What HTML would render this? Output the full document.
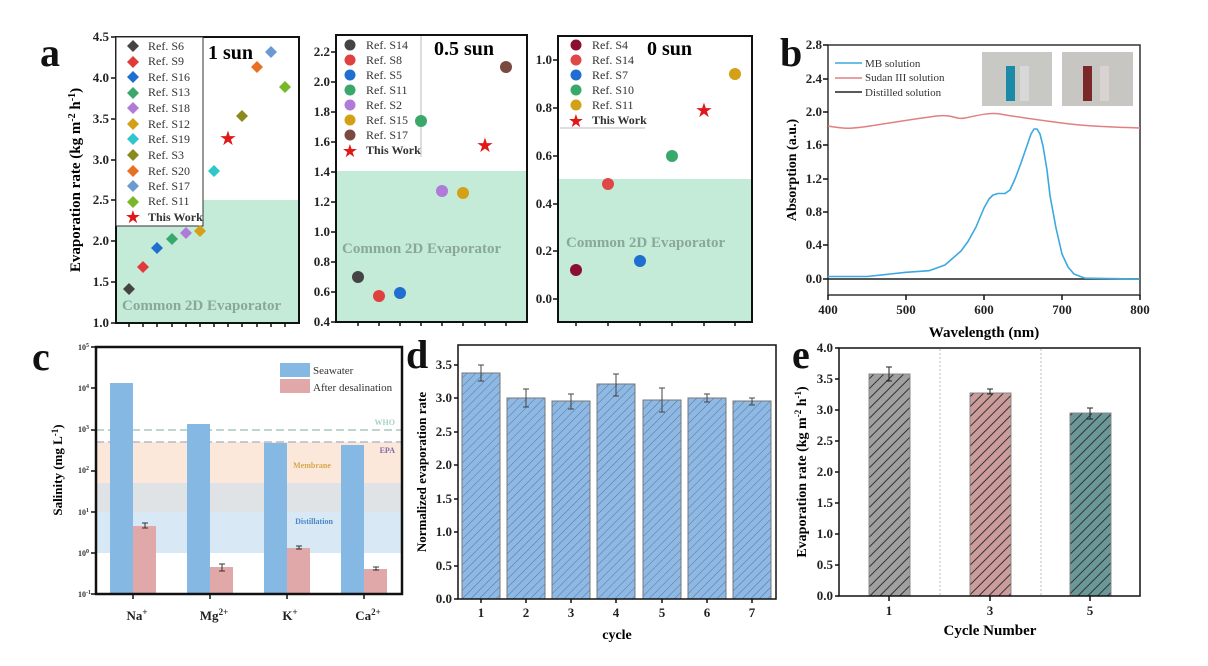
<!DOCTYPE html>
<html><head><meta charset="utf-8"><style>
html,body{margin:0;padding:0;background:#fff;}
svg{display:block;font-family:"Liberation Serif",serif;}
.t{font-weight:bold;font-size:13px;fill:#222;}
.lg{font-size:12px;fill:#333;}
.big{font-weight:bold;font-size:40px;fill:#111;}
.tk{stroke:#111;stroke-width:1.5;fill:none;}
</style></head><body>
<svg width="1208" height="666" viewBox="0 0 1208 666">
<defs>
<pattern id="hd" width="6" height="6" patternUnits="userSpaceOnUse" patternTransform="rotate(45)">
<rect width="6" height="6" fill="#8fb8e2"/><line x1="0" y1="0" x2="0" y2="6" stroke="#4a78a8" stroke-width="1"/></pattern>
<pattern id="hg" width="7" height="7" patternUnits="userSpaceOnUse" patternTransform="rotate(45)">
<rect width="7" height="7" fill="#a0a0a0"/><line x1="0" y1="0" x2="0" y2="7" stroke="#333" stroke-width="2"/></pattern>
<pattern id="hp" width="7" height="7" patternUnits="userSpaceOnUse" patternTransform="rotate(45)">
<rect width="7" height="7" fill="#cc9c9a"/><line x1="0" y1="0" x2="0" y2="7" stroke="#333" stroke-width="2"/></pattern>
<pattern id="ht" width="7" height="7" patternUnits="userSpaceOnUse" patternTransform="rotate(45)">
<rect width="7" height="7" fill="#6a9898"/><line x1="0" y1="0" x2="0" y2="7" stroke="#333" stroke-width="2"/></pattern>
</defs>

<text x="40" y="66" class="big">a</text>
<text x="780" y="66" class="big">b</text>
<text x="32" y="370" class="big">c</text>
<text x="406" y="368" class="big">d</text>
<text x="792" y="368" class="big">e</text>

<!-- a1 -->
<rect x="116" y="200" width="183" height="123" fill="#c4ead8"/>
<rect x="116" y="37" width="183" height="286" fill="none" stroke="#111" stroke-width="2"/>
<path class="tk" d="M111 323h5M111 282h5M111 241h5M111 200h5M111 160h5M111 119h5M111 78h5M111 37h5M129 323v4M143 323v4M157 323v4M172 323v4M186 323v4M200 323v4M214 323v4M228 323v4M242 323v4M257 323v4M271 323v4M285 323v4"/>
<g class="t" text-anchor="end">
<text x="109" y="327">1.0</text><text x="109" y="286">1.5</text><text x="109" y="245">2.0</text><text x="109" y="204">2.5</text><text x="109" y="164">3.0</text><text x="109" y="123">3.5</text><text x="109" y="82">4.0</text><text x="109" y="41">4.5</text></g>
<text transform="translate(80,180) rotate(-90)" text-anchor="middle" style="font-weight:bold;font-size:15px">Evaporation rate (kg m<tspan dy="-5" font-size="10">-2</tspan><tspan dy="5"> h</tspan><tspan dy="-5" font-size="10">-1</tspan><tspan dy="5">)</tspan></text>
<text x="122" y="310" style="font-weight:bold;font-size:15px;fill:#8aa898">Common 2D Evaporator</text>
<rect x="116" y="37" width="87" height="189" fill="#fff" stroke="#333" stroke-width="1"/>
<text x="208" y="59" style="font-weight:bold;font-size:20px">1 sun</text>
<g class="lg">
<text x="148" y="50">Ref. S6</text><text x="148" y="65">Ref. S9</text><text x="148" y="81">Ref. S16</text><text x="148" y="96">Ref. S13</text><text x="148" y="112">Ref. S18</text><text x="148" y="128">Ref. S12</text><text x="148" y="143">Ref. S19</text><text x="148" y="159">Ref. S3</text><text x="148" y="175">Ref. S20</text><text x="148" y="190">Ref. S17</text><text x="148" y="205">Ref. S11</text><text x="148" y="221" style="font-weight:bold">This Work</text></g>
<g>
<path d="M133 40l6 6-6 6-6-6z" fill="#444"/><path d="M133 56l6 6-6 6-6-6z" fill="#e03a3a"/><path d="M133 71l6 6-6 6-6-6z" fill="#1f6fd0"/><path d="M133 87l6 6-6 6-6-6z" fill="#3aa86a"/><path d="M133 102l6 6-6 6-6-6z" fill="#b07ad8"/><path d="M133 118l6 6-6 6-6-6z" fill="#d4a018"/><path d="M133 133l6 6-6 6-6-6z" fill="#2ec8cc"/><path d="M133 149l6 6-6 6-6-6z" fill="#8a8a1e"/><path d="M133 165l6 6-6 6-6-6z" fill="#e87020"/><path d="M133 180l6 6-6 6-6-6z" fill="#6a9ad0"/><path d="M133 196l6 6-6 6-6-6z" fill="#78b828"/>
<text x="133" y="223" text-anchor="middle" font-size="18" fill="#e01818">★</text>
</g>
<g>
<path d="M129 283l6 6-6 6-6-6z" fill="#444"/><path d="M143 261l6 6-6 6-6-6z" fill="#e03a3a"/><path d="M157 242l6 6-6 6-6-6z" fill="#1f6fd0"/><path d="M172 233l6 6-6 6-6-6z" fill="#3aa86a"/><path d="M186 227l6 6-6 6-6-6z" fill="#b07ad8"/><path d="M200 225l6 6-6 6-6-6z" fill="#d4a018"/><path d="M214 165l6 6-6 6-6-6z" fill="#2ec8cc"/><path d="M242 110l6 6-6 6-6-6z" fill="#8a8a1e"/><path d="M257 61l6 6-6 6-6-6z" fill="#e87020"/><path d="M271 46l6 6-6 6-6-6z" fill="#6a9ad0"/><path d="M285 81l6 6-6 6-6-6z" fill="#78b828"/>
<text x="228" y="145" text-anchor="middle" font-size="20" fill="#e01818">★</text></g>

<!-- a2 -->
<rect x="336" y="171" width="191" height="151" fill="#c4ead8"/>
<rect x="336" y="35" width="191" height="287" fill="none" stroke="#111" stroke-width="2"/>
<path class="tk" d="M331 322h5M331 292h5M331 262h5M331 232h5M331 202h5M331 172h5M331 142h5M331 112h5M331 82h5M331 52h5M358 322v4M379 322v4M400 322v4M421 322v4M442 322v4M463 322v4M485 322v4M506 322v4"/>
<g class="t" text-anchor="end">
<text x="330" y="326">0.4</text><text x="330" y="296">0.6</text><text x="330" y="266">0.8</text><text x="330" y="236">1.0</text><text x="330" y="206">1.2</text><text x="330" y="176">1.4</text><text x="330" y="146">1.6</text><text x="330" y="116">1.8</text><text x="330" y="86">2.0</text><text x="330" y="56">2.2</text></g>
<text x="342" y="253" style="font-weight:bold;font-size:15px;fill:#8aa898">Common 2D Evaporator</text>
<line x1="421" y1="36" x2="421" y2="157" stroke="#bbb"/>
<text x="434" y="55" style="font-weight:bold;font-size:20px">0.5 sun</text>
<g class="lg">
<text x="366" y="49">Ref. S14</text><text x="366" y="64">Ref. S8</text><text x="366" y="79">Ref. S5</text><text x="366" y="94">Ref. S11</text><text x="366" y="109">Ref. S2</text><text x="366" y="124">Ref. S15</text><text x="366" y="139">Ref. S17</text><text x="366" y="154" style="font-weight:bold">This Work</text></g>
<g><circle cx="350" cy="45" r="5.5" fill="#444"/><circle cx="350" cy="60" r="5.5" fill="#e04040"/><circle cx="350" cy="75" r="5.5" fill="#1f6fd0"/><circle cx="350" cy="90" r="5.5" fill="#3aa86a"/><circle cx="350" cy="105" r="5.5" fill="#b07ad8"/><circle cx="350" cy="120" r="5.5" fill="#d4a018"/><circle cx="350" cy="135" r="5.5" fill="#7a4a40"/><text x="350" y="157" text-anchor="middle" font-size="18" fill="#e01818">★</text>
<circle cx="358" cy="277" r="6" fill="#444"/><circle cx="379" cy="296" r="6" fill="#e04040"/><circle cx="400" cy="293" r="6" fill="#1f6fd0"/><circle cx="421" cy="121" r="6" fill="#3aa86a"/><circle cx="442" cy="191" r="6" fill="#b07ad8"/><circle cx="463" cy="193" r="6" fill="#d4a018"/><circle cx="506" cy="67" r="6" fill="#7a4a40"/><text x="485" y="152" text-anchor="middle" font-size="20" fill="#e01818">★</text></g>

<!-- a3 -->
<rect x="558" y="179" width="194" height="143" fill="#c4ead8"/>
<rect x="558" y="36" width="194" height="286" fill="none" stroke="#111" stroke-width="2"/>
<path class="tk" d="M553 299h5M553 251h5M553 204h5M553 156h5M553 108h5M553 60h5M576 322v4M608 322v4M640 322v4M672 322v4M704 322v4M735 322v4"/>
<g class="t" text-anchor="end">
<text x="552" y="303">0.0</text><text x="552" y="255">0.2</text><text x="552" y="208">0.4</text><text x="552" y="160">0.6</text><text x="552" y="112">0.8</text><text x="552" y="64">1.0</text></g>
<text x="566" y="247" style="font-weight:bold;font-size:15px;fill:#8aa898">Common 2D Evaporator</text>
<line x1="560" y1="128" x2="645" y2="128" stroke="#bbb"/>
<text x="647" y="55" style="font-weight:bold;font-size:20px">0 sun</text>
<g class="lg">
<text x="592" y="49">Ref. S4</text><text x="592" y="64">Ref. S14</text><text x="592" y="79">Ref. S7</text><text x="592" y="94">Ref. S10</text><text x="592" y="109">Ref. S11</text><text x="592" y="124" style="font-weight:bold">This Work</text></g>
<g><circle cx="576" cy="45" r="5.5" fill="#8a1030"/><circle cx="576" cy="60" r="5.5" fill="#e04848"/><circle cx="576" cy="75" r="5.5" fill="#1f6fd0"/><circle cx="576" cy="90" r="5.5" fill="#3aa86a"/><circle cx="576" cy="105" r="5.5" fill="#d4a018"/><text x="576" y="127" text-anchor="middle" font-size="18" fill="#e01818">★</text>
<circle cx="576" cy="270" r="6" fill="#8a1030"/><circle cx="608" cy="184" r="6" fill="#e04848"/><circle cx="640" cy="261" r="6" fill="#1f6fd0"/><circle cx="672" cy="156" r="6" fill="#3aa86a"/><circle cx="735" cy="74" r="6" fill="#d4a018"/><text x="704" y="117" text-anchor="middle" font-size="20" fill="#e01818">★</text></g>

<!-- b -->
<rect x="828" y="45" width="312" height="250" fill="none" stroke="#333" stroke-width="1.5"/>
<path class="tk" d="M823 45h5M823 79h5M823 112h5M823 145h5M823 179h5M823 212h5M823 245h5M823 279h5M828 295v5M906 295v5M984 295v5M1062 295v5M1140 295v5"/>
<rect x="982" y="52" width="70" height="54" fill="#c8c8c4"/><rect x="1006" y="66" width="9" height="35" fill="#1a8aa8"/><rect x="1020" y="66" width="9" height="35" fill="#d8d8d8"/>
<rect x="1062" y="52" width="71" height="54" fill="#c8c6c2"/><rect x="1083" y="66" width="9" height="35" fill="#7a2828"/><rect x="1100" y="66" width="9" height="35" fill="#d8d2d0"/>
<line x1="828" y1="279" x2="1140" y2="279" stroke="#222" stroke-width="1.5"/>
<path fill="none" stroke="#e08080" stroke-width="1.5" d="M828 126 C845 129 850 129 870 126 S920 118 937 116 S955 120 965 118 S990 112 1000 114 S1040 120 1062 123 S1110 127 1140 128"/>
<polyline fill="none" stroke="#3ca8e0" stroke-width="1.6" stroke-linejoin="round" points="828,276.5 867,276.5 906,272.3 929,270.7 945,265 953,258 961,251 968,241.5 976,227 984,208 989,199 993,195 998,193.5 1005,193.5 1010,190 1015,179 1021,163 1027,145.6 1031,134 1034,129 1037,129 1040,134 1043,146 1047,170 1050,195.6 1056,228 1062,254 1068,267 1074,274 1085,278.2 1140,279"/>
<line x1="835" y1="63" x2="862" y2="63" stroke="#3ca8e0" stroke-width="1.6"/><line x1="835" y1="78" x2="862" y2="78" stroke="#e08080" stroke-width="1.6"/><line x1="835" y1="92" x2="862" y2="92" stroke="#222" stroke-width="1.6"/>
<g class="lg"><text x="865" y="67" font-size="11">MB solution</text><text x="865" y="81" font-size="11">Sudan III solution</text><text x="865" y="96" font-size="11">Distilled solution</text></g>
<g class="t" text-anchor="end" font-size="12">
<text x="822" y="49">2.8</text><text x="822" y="83">2.4</text><text x="822" y="116">2.0</text><text x="822" y="149">1.6</text><text x="822" y="183">1.2</text><text x="822" y="216">0.8</text><text x="822" y="249">0.4</text><text x="822" y="283">0.0</text></g>
<g class="t" text-anchor="middle"><text x="828" y="314">400</text><text x="906" y="314">500</text><text x="984" y="314">600</text><text x="1062" y="314">700</text><text x="1140" y="314">800</text></g>
<text x="984" y="337" text-anchor="middle" style="font-weight:bold;font-size:15px">Wavelength (nm)</text>
<text transform="translate(796,170) rotate(-90)" text-anchor="middle" style="font-weight:bold;font-size:14px">Absorption (a.u.)</text>

<!-- c -->
<rect x="96" y="512" width="306" height="41" fill="#d8e8f5"/>
<rect x="96" y="483" width="306" height="29" fill="#dfe3e6"/>
<rect x="96" y="442" width="306" height="41" fill="#fbe8da"/>
<line x1="96" y1="430" x2="402" y2="430" stroke="#aac8c0" stroke-dasharray="8,4" stroke-width="1.5"/>
<line x1="96" y1="442" x2="402" y2="442" stroke="#b8b8c8" stroke-dasharray="8,4" stroke-width="1.5"/>
<g fill="#86b8e4">
<rect x="110" y="383" width="23" height="211"/><rect x="187" y="424" width="23" height="170"/><rect x="264" y="443" width="23" height="151"/><rect x="341" y="445" width="23" height="149"/></g>
<g fill="#e0a8a8">
<rect x="133" y="526" width="23" height="68"/><rect x="210" y="567" width="23" height="27"/><rect x="287" y="548" width="23" height="46"/><rect x="364" y="569" width="23" height="25"/></g>
<g stroke="#333" stroke-width="1"><path d="M142 523h6M145 523v5M142 528h6"/><path d="M219 564h6M222 564v7M219 571h6"/><path d="M296 546h6M299 546v3M296 549h6"/><path d="M373 567h6M376 567v3M373 570h6"/></g>
<rect x="96" y="347" width="306" height="247" fill="none" stroke="#111" stroke-width="2.5"/>
<path class="tk" d="M91 347h5M91 388h5M91 430h5M91 471h5M91 512h5M91 553h5M91 594h5M133 594v5M210 594v5M287 594v5M364 594v5"/>
<rect x="280" y="363" width="30" height="14" fill="#86b8e4"/><rect x="280" y="379" width="30" height="14" fill="#e0a8a8"/>
<text x="313" y="374" font-size="11" fill="#333">Seawater</text><text x="313" y="391" font-size="11" fill="#333">After desalination</text>
<text x="395" y="425" text-anchor="end" font-size="8" fill="#a8d0c0" font-weight="bold">WHO</text>
<text x="395" y="453" text-anchor="end" font-size="8" fill="#8068a8" font-weight="bold">EPA</text>
<text x="312" y="468" text-anchor="middle" font-size="8" fill="#d8a850" font-weight="bold">Membrane</text>
<text x="314" y="524" text-anchor="middle" font-size="8" fill="#4a88c8" font-weight="bold">Distillation</text>
<g font-size="8" fill="#333" text-anchor="end" font-weight="bold">
<text x="89" y="350">10<tspan dy="-3" font-size="6">5</tspan></text><text x="89" y="391">10<tspan dy="-3" font-size="6">4</tspan></text><text x="89" y="432">10<tspan dy="-3" font-size="6">3</tspan></text><text x="89" y="473">10<tspan dy="-3" font-size="6">2</tspan></text><text x="89" y="515">10<tspan dy="-3" font-size="6">1</tspan></text><text x="89" y="556">10<tspan dy="-3" font-size="6">0</tspan></text><text x="91" y="597">10<tspan dy="-3" font-size="6">-1</tspan></text></g>
<text transform="translate(62,470) rotate(-90)" text-anchor="middle" style="font-weight:bold;font-size:13px">Salinity (mg L<tspan dy="-4" font-size="9">-1</tspan><tspan dy="4">)</tspan></text>
<g class="t" text-anchor="middle"><text x="137" y="620">Na<tspan dy="-5" font-size="9">+</tspan></text><text x="214" y="620">Mg<tspan dy="-5" font-size="9">2+</tspan></text><text x="290" y="620">K<tspan dy="-5" font-size="9">+</tspan></text><text x="368" y="620">Ca<tspan dy="-5" font-size="9">2+</tspan></text></g>

<!-- d -->
<g stroke="#777" stroke-width="1">
<rect x="462" y="373" width="38" height="226" fill="url(#hd)"/><rect x="507" y="398" width="38" height="201" fill="url(#hd)"/><rect x="552" y="401" width="38" height="198" fill="url(#hd)"/><rect x="597" y="384" width="38" height="215" fill="url(#hd)"/><rect x="643" y="400" width="38" height="199" fill="url(#hd)"/><rect x="688" y="398" width="38" height="201" fill="url(#hd)"/><rect x="733" y="401" width="38" height="198" fill="url(#hd)"/></g>
<g stroke="#444" stroke-width="1" fill="none">
<path d="M478 365h6M481 365v16M478 381h6"/><path d="M523 389h6M526 389v18M523 407h6"/><path d="M568 394h6M571 394v15M568 409h6"/><path d="M613 374h6M616 374v22M613 396h6"/><path d="M659 388h6M662 388v24M659 412h6"/><path d="M704 394h6M707 394v8M704 402h6"/><path d="M749 398h6M752 398v7M749 405h6"/></g>
<rect x="458" y="345" width="318" height="254" fill="none" stroke="#111" stroke-width="1.5"/>
<path class="tk" d="M454 599h4M454 566h4M454 532h4M454 499h4M454 465h4M454 432h4M454 398h4M454 365h4M481 599v4M526 599v4M571 599v4M616 599v4M662 599v4M707 599v4M752 599v4"/>
<g class="t" text-anchor="end" font-size="12">
<text x="452" y="603">0.0</text><text x="452" y="570">0.5</text><text x="452" y="536">1.0</text><text x="452" y="503">1.5</text><text x="452" y="469">2.0</text><text x="452" y="436">2.5</text><text x="452" y="402">3.0</text><text x="452" y="369">3.5</text></g>
<g class="t" text-anchor="middle" font-size="12"><text x="481" y="617">1</text><text x="526" y="617">2</text><text x="571" y="617">3</text><text x="616" y="617">4</text><text x="662" y="617">5</text><text x="707" y="617">6</text><text x="752" y="617">7</text></g>
<text x="617" y="639" text-anchor="middle" style="font-weight:bold;font-size:14px">cycle</text>
<text transform="translate(426,472) rotate(-90)" text-anchor="middle" style="font-weight:bold;font-size:13px">Normalized evaporation rate</text>

<!-- e -->
<line x1="940" y1="349" x2="940" y2="596" stroke="#bbb" stroke-dasharray="2,2"/><line x1="1041" y1="349" x2="1041" y2="596" stroke="#bbb" stroke-dasharray="2,2"/>
<rect x="869" y="374" width="41" height="222" fill="url(#hg)" stroke="#888"/>
<rect x="970" y="393" width="41" height="203" fill="url(#hp)" stroke="#888"/>
<rect x="1070" y="413" width="41" height="183" fill="url(#ht)" stroke="#888"/>
<g stroke="#222" fill="none"><path d="M886 367h6M889 367v14M886 381h6"/><path d="M987 389h6M990 389v5M987 394h6"/><path d="M1087 408h6M1090 408v11M1087 419h6"/></g>
<rect x="839" y="348" width="301" height="248" fill="none" stroke="#111" stroke-width="1.5"/>
<path class="tk" d="M835 596h4M835 565h4M835 534h4M835 503h4M835 472h4M835 441h4M835 410h4M835 379h4M835 348h4M889 596v5M990 596v5M1090 596v5"/>
<g class="t" text-anchor="end" font-size="12">
<text x="833" y="600">0.0</text><text x="833" y="569">0.5</text><text x="833" y="538">1.0</text><text x="833" y="507">1.5</text><text x="833" y="476">2.0</text><text x="833" y="445">2.5</text><text x="833" y="414">3.0</text><text x="833" y="383">3.5</text><text x="833" y="352">4.0</text></g>
<g class="t" text-anchor="middle"><text x="889" y="615">1</text><text x="990" y="615">3</text><text x="1090" y="615">5</text></g>
<text x="990" y="635" text-anchor="middle" style="font-weight:bold;font-size:15px">Cycle Number</text>
<text transform="translate(806,472) rotate(-90)" text-anchor="middle" style="font-weight:bold;font-size:14px">Evaporation rate (kg m<tspan dy="-5" font-size="9">-2</tspan><tspan dy="5"> h</tspan><tspan dy="-5" font-size="9">-1</tspan><tspan dy="5">)</tspan></text>
</svg>
</body></html>
